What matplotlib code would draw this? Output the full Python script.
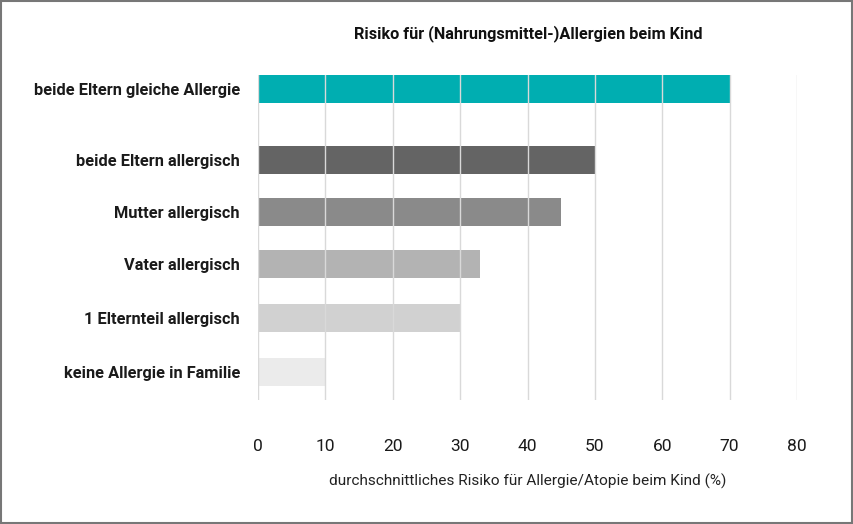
import matplotlib.pyplot as plt
from matplotlib.patches import Rectangle

categories = [
    'beide Eltern gleiche Allergie',
    'beide Eltern allergisch',
    'Mutter allergisch',
    'Vater allergisch',
    '1 Elternteil allergisch',
    'keine Allergie in Familie',
]
risk = [70, 50, 45, 33, 30, 10]
colors = ['#00aeb1', '#646464', '#8a8a8a', '#b3b3b3', '#d1d1d1', '#ebebeb']
x_ticks = [0, 10, 20, 30, 40, 50, 60, 70, 80]

# vertical slots of the bars (first bar separated by a larger gap)
y_pos = [0, 1.35, 2.35, 3.33, 4.36, 5.4]

plt.rcParams['font.family'] = ['Roboto', 'DejaVu Sans']

fig = plt.figure(figsize=(8.54, 5.24), dpi=100)
ax = fig.add_axes([258 / 854, 1 - 400 / 524, (797 - 258) / 854, (400 - 75) / 524])

ax.barh(y_pos, risk, height=0.54, color=colors, zorder=1)

ax.set_xlim(0, 80)
ax.set_ylim(5.93, -0.27)
ax.set_xticks(x_ticks)
ax.set_xticklabels([str(t) for t in x_ticks], fontsize=12.5)
ax.set_yticks(y_pos)
ax.set_yticklabels(categories, fontsize=11.8, fontweight='bold')
ax.tick_params(axis='both', length=0, colors='#1a1a1a')
ax.tick_params(axis='x', pad=28)
ax.tick_params(axis='y', pad=13)
ax.grid(axis='x', color='#d9d9d9', linewidth=1, zorder=2)
ax.set_axisbelow(False)
for s in ax.spines.values():
    s.set_visible(False)

ax.set_xlabel('durchschnittliches Risiko für Allergie/Atopie beim Kind (%)',
              fontsize=11.1, color='#222222', labelpad=14)
fig.text(528 / 854, 1 - 34 / 524, 'Risiko für (Nahrungsmittel-)Allergien beim Kind',
         ha='center', va='center', fontsize=11.7, fontweight='bold', color='#111111')

fig.patches.append(Rectangle((0.001, 0.002), 0.997, 0.996, transform=fig.transFigure,
                             fill=False, edgecolor='#777777', linewidth=1.5))

fig.savefig('out.png', dpi=100)
